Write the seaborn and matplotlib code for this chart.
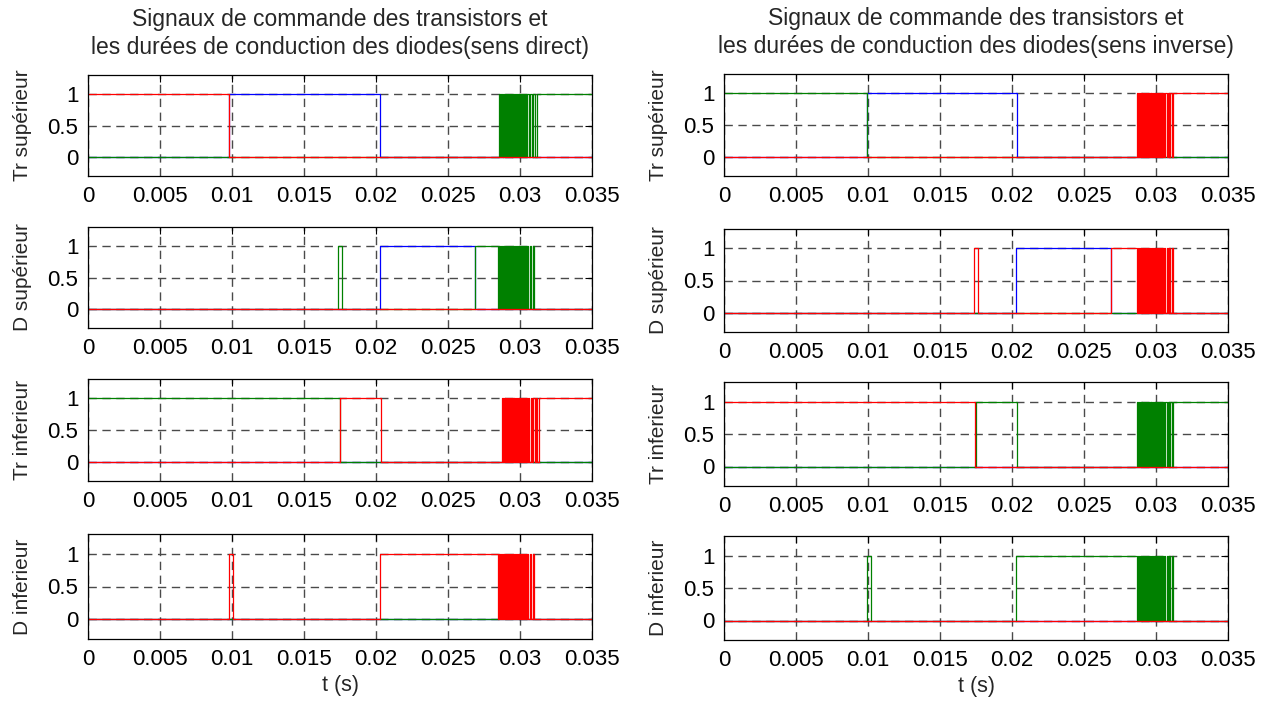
import matplotlib
matplotlib.use("Agg")
import matplotlib.pyplot as plt
import pandas as pd
import seaborn as sns

T_END = 0.035

# tick positions / labels
x_ticks = [0, 0.005, 0.01, 0.015, 0.02, 0.025, 0.03, 0.035]
x_tick_labels = ["0", "0.005", "0.01", "0.015", "0.02", "0.025", "0.03", "0.035"]
y_ticks = [0, 0.5, 1]
y_tick_labels = ["0", "0.5", "1"]

row_labels = ["Tr supérieur", "D supérieur", "Tr inferieur", "D inferieur"]
col_titles = [
    "Signaux de commande des transistors et\nles durées de conduction des diodes(sens direct)",
    "Signaux de commande des transistors et\nles durées de conduction des diodes(sens inverse)",
]
x_label = "t (s)"

# switching bursts (s) around t = 0.03
burst_a = [0.02855, 0.02861, 0.02867, 0.02873, 0.02879, 0.02885, 0.02891, 0.02898,
           0.02904, 0.02910, 0.02916, 0.02922, 0.02928, 0.02935, 0.02941, 0.02947,
           0.02953, 0.02960, 0.02966, 0.02972, 0.02978, 0.02985, 0.02991, 0.02998,
           0.03004, 0.03011, 0.03018, 0.03026, 0.03034, 0.03042, 0.03051, 0.03060,
           0.03070, 0.03080, 0.03092, 0.03105, 0.03118]
burst_b = [0.02850, 0.02856, 0.02862, 0.02868, 0.02874, 0.02880, 0.02886, 0.02892,
           0.02898, 0.02904, 0.02910, 0.02917, 0.02923, 0.02929, 0.02935, 0.02941,
           0.02948, 0.02954, 0.02960, 0.02966, 0.02973, 0.02979, 0.02985, 0.02992,
           0.02998, 0.03005, 0.03012, 0.03019, 0.03026, 0.03034, 0.03042, 0.03050,
           0.03059, 0.03068, 0.03078, 0.03089, 0.03100]
burst_c = [0.02875, 0.02881, 0.02887, 0.02893, 0.02899, 0.02905, 0.02911, 0.02918,
           0.02924, 0.02930, 0.02936, 0.02942, 0.02949, 0.02955, 0.02961, 0.02967,
           0.02974, 0.02980, 0.02986, 0.02993, 0.02999, 0.03006, 0.03012, 0.03019,
           0.03026, 0.03033, 0.03040, 0.03048, 0.03056, 0.03064, 0.03073, 0.03082,
           0.03091, 0.03101, 0.03111, 0.03121, 0.03132]
burst_d = [0.02870, 0.02876, 0.02882, 0.02888, 0.02894, 0.02900, 0.02906, 0.02912,
           0.02918, 0.02925, 0.02931, 0.02937, 0.02943, 0.02949, 0.02956, 0.02962,
           0.02968, 0.02974, 0.02981, 0.02987, 0.02993, 0.03000, 0.03006, 0.03013,
           0.03020, 0.03027, 0.03034, 0.03041, 0.03049, 0.03057, 0.03065, 0.03073,
           0.03082, 0.03091, 0.03100, 0.03110, 0.03120]

# each signal: (initial level, switching instants); phases drawn blue, green, red
direct_signals = [
    {"b": (0, [0.0098, 0.0203]),
     "g": (0, burst_a),
     "r": (1, [0.0098])},
    {"b": (0, [0.0203, 0.0269]),
     "g": (0, [0.01736, 0.01764, 0.0269] + burst_b),
     "r": (0, [])},
    {"b": (0, []),
     "g": (1, [0.0175]),
     "r": (0, [0.0175, 0.02035] + burst_c)},
    {"b": (0, []),
     "g": (0, []),
     "r": (0, [0.0098, 0.0101, 0.0203] + burst_b)},
]
inverse_signals = [
    {"b": (0, [0.0099, 0.02035]),
     "g": (1, [0.0099]),
     "r": (0, burst_d)},
    {"b": (0, [0.0203, 0.0269]),
     "g": (0, []),
     "r": (0, [0.01736, 0.01764, 0.0269] + burst_d)},
    {"b": (0, []),
     "g": (0, [0.0175, 0.02035] + burst_d),
     "r": (1, [0.0174])},
    {"b": (0, []),
     "g": (0, [0.0099, 0.0102, 0.0203] + burst_d),
     "r": (0, [])},
]

colors = {"b": (0.0, 0.0, 1.0), "g": (0.0, 0.5, 0.0), "r": (1.0, 0.0, 0.0)}

sns.set_theme(style="white")
plt.rcParams["font.family"] = ["Liberation Sans", "DejaVu Sans"]
plt.rcParams["axes.edgecolor"] = "black"
plt.rcParams["axes.linewidth"] = 0.9

W, H = 1273, 701
fig = plt.figure(figsize=(W / 100, H / 100), dpi=100)
fig.patch.set_facecolor("white")

# axes boxes in pixels: (left, top, right, bottom)
col_lr = [(88, 592), (724, 1228)]
row_tb = [
    [(75, 176), (227, 328), (379, 481), (534, 639)],
    [(74, 176), (229, 332), (382, 486), (536, 640)],
]


def step_frame(start, toggles):
    t = [0.0] + list(toggles) + [T_END]
    v = [start]
    for _ in toggles:
        v.append(1 - v[-1])
    v.append(v[-1])
    return pd.DataFrame({"t": t, "v": v})


for c, signals in enumerate([direct_signals, inverse_signals]):
    l, r = col_lr[c]
    for k, sig in enumerate(signals):
        top, bot = row_tb[c][k]
        ax = fig.add_axes([l / W, 1 - bot / H, (r - l) / W, (bot - top) / H])
        for key in ["b", "g", "r"]:
            start, toggles = sig[key]
            sns.lineplot(data=step_frame(start, toggles), x="t", y="v", ax=ax,
                         color=colors[key], lw=0.9, drawstyle="steps-post",
                         estimator=None, sort=False)
        ax.set_xlim(0, T_END)
        ax.set_ylim(-0.3, 1.3)
        ax.set_xticks(x_ticks)
        ax.set_xticklabels(x_tick_labels)
        ax.set_yticks(y_ticks)
        ax.set_yticklabels(y_tick_labels)
        ax.grid(True, linestyle=(0, (6, 4)), color="#4a4a4a", lw=1.0)
        ax.set_axisbelow(True)
        ax.tick_params(direction="in", top=True, right=True, length=5, width=0.8,
                       labelsize=16, pad=7, colors="black")
        ax.set_ylabel(row_labels[k], fontsize=15)
        ax.yaxis.set_label_coords(-0.112, 0.5)
        if k == 3:
            ax.set_xlabel(x_label, fontsize=15.5, labelpad=4)
        else:
            ax.set_xlabel("")
        if k == 0:
            ax.set_title(col_titles[c], fontsize=16.5, pad=15, linespacing=1.3)
        for s in ax.spines.values():
            s.set_visible(True)
            s.set_color("black")

fig.savefig("out.png", dpi=100, facecolor="white")
